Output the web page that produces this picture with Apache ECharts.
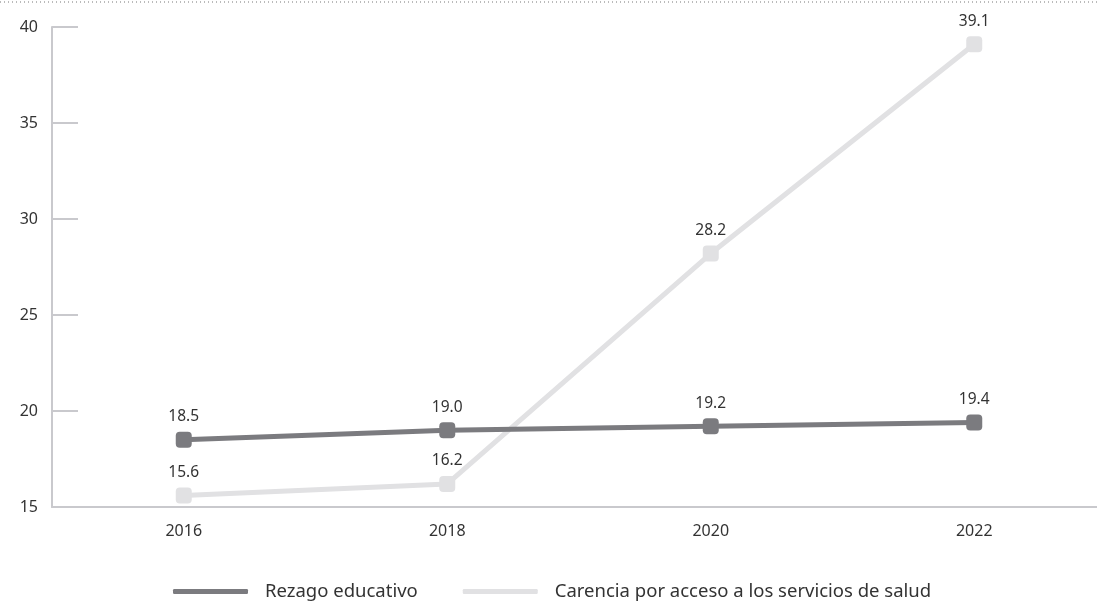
<!DOCTYPE html>
<html>
<head>
<meta charset="utf-8">
<script src="https://cdn.jsdelivr.net/npm/echarts@6/dist/echarts.min.js"></script>
<style>
    html, body { margin: 0; padding: 0; background: #fff; }
    #chart { width: 1097px; height: 601px; }
</style>
</head>
<body>
<div id="chart"></div>
<script>
    // datos
    var years = ['2016', '2018', '2020', '2022'];
    var rezago = [18.5, 19.0, 19.2, 19.4];
    var salud = [15.6, 16.2, 28.2, 39.1];
    var yTicks = [15, 20, 25, 30, 35, 40];

    var darkColor = '#7b7b7f';
    var lightColor = '#e1e1e3';
    var axisColor = '#c9c9cd';
    var font = '"Noto Sans", "Open Sans", sans-serif';

    var chart = echarts.init(document.getElementById('chart'));

    function lineSeries(name, data, color) {
        return {
            name: name,
            type: 'line',
            data: data,
            symbol: 'roundRect',
            symbolSize: 16,
            lineStyle: { width: 5, color: color },
            itemStyle: { color: color },
            label: {
                show: true,
                position: 'top',
                distance: 7,
                color: '#333',
                fontSize: 15.5,
                fontFamily: font,
                formatter: function (p) { return p.value.toFixed(1); }
            },
            z: name === 'Rezago educativo' ? 3 : 2
        };
    }

    var option = {
        backgroundColor: '#fff',
        animation: false,
        grid: { left: 52, top: 27, width: 1054, bottom: 94, outerBoundsMode: 'none' },
        legend: {
            top: 577,
            left: 168,
            icon: 'roundRect',
            itemWidth: 75,
            itemHeight: 5,
            itemGap: 45,
            textStyle: { color: '#333', fontSize: 18.5, fontFamily: font, padding: [0, 0, 0, 12] },
            data: ['Rezago educativo', 'Carencia por acceso a los servicios de salud']
        },
        xAxis: {
            type: 'category',
            data: years,
            boundaryGap: true,
            axisLine: { lineStyle: { color: axisColor, width: 2 } },
            axisTick: { inside: true, length: 11, lineStyle: { color: axisColor, width: 2 } },
            axisLabel: { color: '#333', fontSize: 16, fontFamily: font, margin: 16 }
        },
        yAxis: {
            type: 'value',
            min: yTicks[0],
            max: yTicks[yTicks.length - 1],
            interval: 5,
            axisLine: { show: true, lineStyle: { color: axisColor, width: 2 } },
            axisTick: { show: true, inside: true, length: 26, lineStyle: { color: axisColor, width: 2 } },
            axisLabel: { color: '#333', fontSize: 16, fontFamily: font, margin: 14 },
            splitLine: { show: false }
        },
        graphic: [{
            type: 'line',
            shape: { x1: 0, y1: 2, x2: 1097, y2: 2 },
            style: { stroke: '#777', lineWidth: 1, lineDash: [1, 3] }
        }],
        series: [
            lineSeries('Rezago educativo', rezago, darkColor),
            lineSeries('Carencia por acceso a los servicios de salud', salud, lightColor)
        ]
    };

    chart.setOption(option);
</script>
</body>
</html>
